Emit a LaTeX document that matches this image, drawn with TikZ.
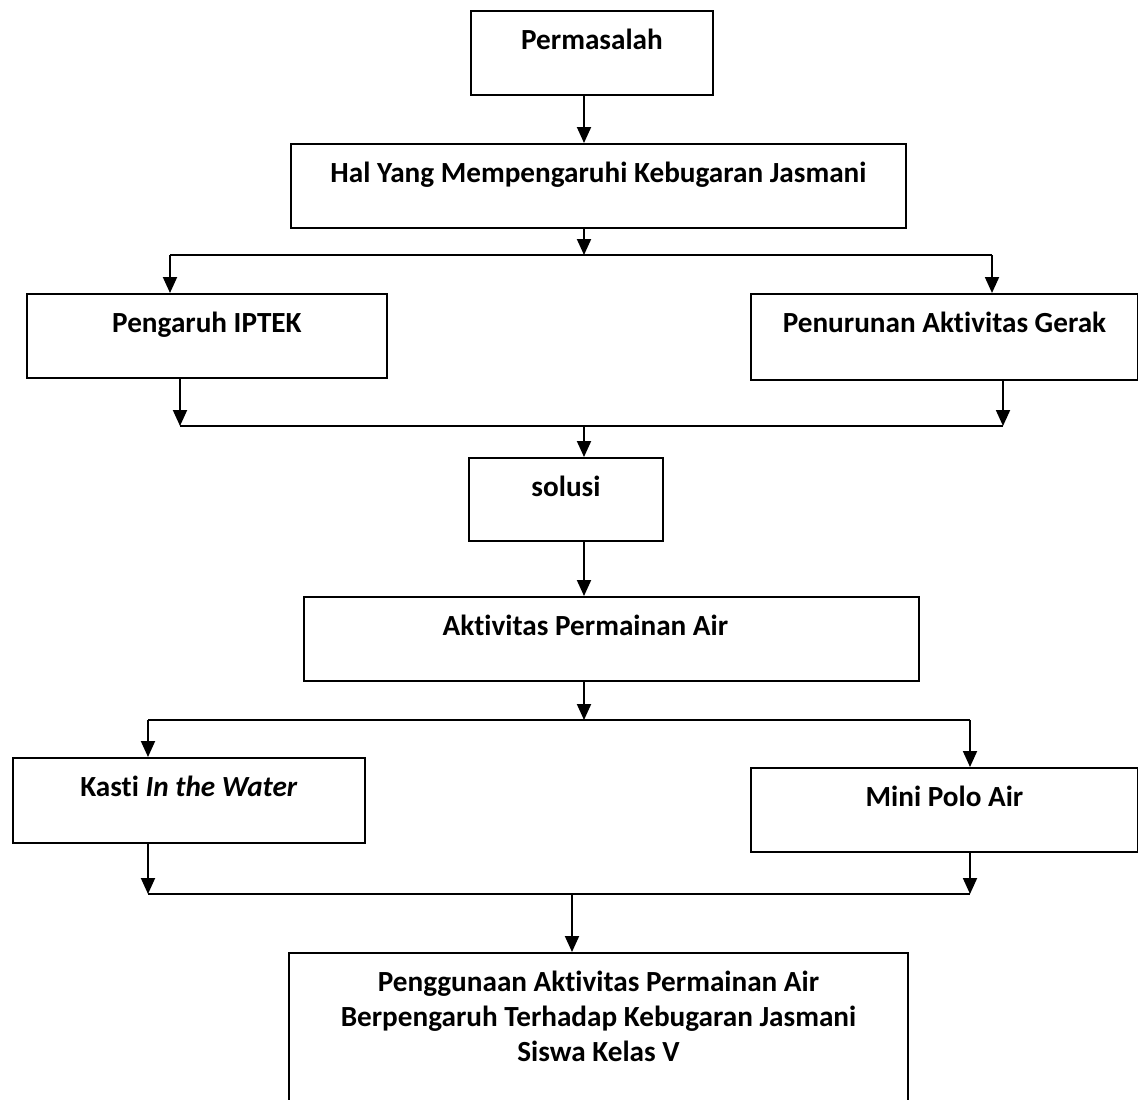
\documentclass[tikz,border=0pt]{standalone}
\usepackage{fontspec}
\setmainfont[Ligatures={NoCommon}]{Carlito}
\usetikzlibrary{arrows.meta}
\newcommand{\flowbox}[6]{%
  \pgfmathsetmacro\bw{((#4)-(#2))*0.5}%
  \pgfmathsetmacro\bh{((#5)-(#3))*0.5}%
  \pgfmathsetmacro\bd{\bh-19.5}%
  \node[fbox, minimum width=\bw pt, minimum height=\bh pt,
    text height=19.5pt, text depth=\bd pt] (#1) at (#2,#3) {#6};}
\begin{document}
\begin{tikzpicture}[x=0.5pt, y=-0.5pt, line width=0.95pt,
  fbox/.style={draw, rectangle, anchor=north west, inner sep=0pt,
    font=\fontsize{14.6}{17.5}\selectfont\bfseries},
  arr/.style={-{Triangle[length=8pt,width=7pt]}}]
\useasboundingbox (0,0) rectangle (1138,1099);
% boxes
\flowbox{perm}{470}{10}{712}{94}{Permasalah}
\flowbox{hal}{290}{143}{905}{227}{Hal Yang Mempengaruhi Kebugaran Jasmani}
\flowbox{iptek}{26}{293}{386}{377}{Pengaruh IPTEK}
\flowbox{gerak}{750}{293}{1137}{379}{Penurunan Aktivitas Gerak}
\flowbox{solusi}{468}{457}{662}{540}{solusi}
\flowbox{aktiv}{303}{596}{918}{680}{Aktivitas Permainan Air\hspace*{26pt}}
\flowbox{kasti}{12}{757}{364}{842}{Kasti \textit{In the Water}}
\flowbox{polo}{750}{767}{1137}{851}{Mini Polo Air}
\node[fbox, anchor=north, align=center, minimum width=309.5pt,
  inner ysep=9pt, text depth=60pt] (hasil) at (598.5,952)
  {Penggunaan Aktivitas Permainan Air\\Berpengaruh Terhadap Kebugaran Jasmani\\Siswa Kelas V};
% junction points of the connector lines
\coordinate (j1) at (584,255); \coordinate (b1l) at (170,255); \coordinate (b1r) at (992,255);
\coordinate (j2) at (584,426); \coordinate (b2l) at (180,426); \coordinate (b2r) at (1003,426);
\coordinate (j3) at (584,720); \coordinate (b3l) at (148,720); \coordinate (b3r) at (970,720);
\coordinate (j4) at (572,894); \coordinate (b4l) at (148,894); \coordinate (b4r) at (970,894);
% problem -> influences
\draw[arr] (perm.south -| j1) -- (hal.north -| j1);
\draw[arr] (hal.south -| j1) -- (j1);
\draw (b1l) -- (b1r);
\draw[arr] (b1l) -- (iptek.north -| b1l);
\draw[arr] (b1r) -- (gerak.north -| b1r);
% influences -> solution
\draw[arr] (iptek.south -| b2l) -- (b2l);
\draw[arr] (gerak.south -| b2r) -- (b2r);
\draw (b2l) -- (b2r);
\draw[arr] (j2) -- (solusi.north -| j2);
\draw[arr] (solusi.south -| j2) -- (aktiv.north -| j2);
% water games
\draw[arr] (aktiv.south -| j3) -- (j3);
\draw (b3l) -- (b3r);
\draw[arr] (b3l) -- (kasti.north -| b3l);
\draw[arr] (b3r) -- (polo.north -| b3r);
\draw[arr] (kasti.south -| b4l) -- (b4l);
\draw[arr] (polo.south -| b4r) -- (b4r);
\draw (b4l) -- (b4r);
\draw[arr] (j4) -- (hasil.north -| j4);
\end{tikzpicture}
\end{document}
